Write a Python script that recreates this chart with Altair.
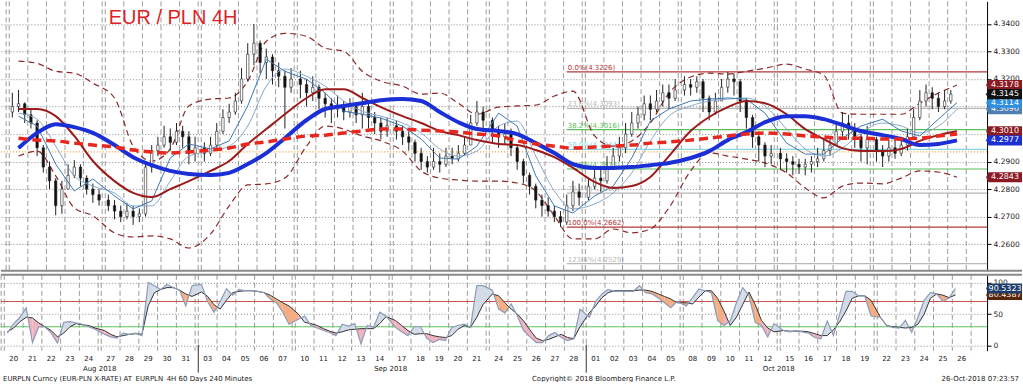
import altair as alt
import pandas as pd

# ---------------- calendar ----------------
day_labels = ["20", "21", "22", "23", "24", "27", "28", "29", "30", "31",
              "03", "04", "05", "06", "07", "10", "11", "12", "13", "14",
              "17", "18", "19", "20", "21", "24", "25", "26", "27", "28",
              "01", "02", "03", "04", "05", "08", "09", "10", "11", "12",
              "15", "16", "17", "18", "19", "22", "23", "24", "25", "26"]
month_labels = ["Aug 2018", "Sep 2018", "Oct 2018"]
month_label_after_day = [4, 19, 39]
month_start_day = [10, 30]

# ---------------- 8h candles (close / high / low) ----------------
first_open = 4.3080
bar_close = [4.3100, 4.3110, 4.3070, 4.3040, 4.2950, 4.2880, 4.2830, 4.2740, 4.2800,
             4.2850, 4.2880, 4.2840, 4.2800, 4.2780, 4.2760, 4.2740, 4.2720, 4.2700,
             4.2720, 4.2700, 4.2710, 4.2880, 4.2940, 4.2960, 4.2990, 4.2970, 4.3010,
             4.2990, 4.2930, 4.2950, 4.2930, 4.2960, 4.3010, 4.3060, 4.3080, 4.3120,
             4.3200, 4.3290, 4.3330, 4.3260, 4.3280, 4.3230, 4.3210, 4.3170, 4.3200,
             4.3180, 4.3150, 4.3170, 4.3130, 4.3110, 4.3090, 4.3100, 4.3080, 4.3100,
             4.3070, 4.3100, 4.3060, 4.3040, 4.3010, 4.3030, 4.3010, 4.2990, 4.2970,
             4.2930, 4.2900, 4.2880, 4.2900, 4.2890, 4.2920, 4.2910, 4.2930, 4.2960,
             4.3040, 4.3080, 4.3050, 4.3010, 4.2990, 4.3000, 4.2950, 4.2900, 4.2850,
             4.2810, 4.2760, 4.2740, 4.2720, 4.2700, 4.2680, 4.2740, 4.2790, 4.2770,
             4.2810, 4.2840, 4.2830, 4.2880, 4.2920, 4.2950, 4.3000, 4.3040, 4.3070,
             4.3110, 4.3090, 4.3120, 4.3150, 4.3130, 4.3160, 4.3180, 4.3170, 4.3190,
             4.3130, 4.3080, 4.3120, 4.3170, 4.3200, 4.3190, 4.3120, 4.3060, 4.2990,
             4.2960, 4.2920, 4.2930, 4.2910, 4.2900, 4.2890, 4.2880, 4.2890, 4.2900,
             4.2910, 4.2940, 4.2960, 4.3010, 4.3040, 4.3020, 4.2990, 4.2950, 4.2980,
             4.2940, 4.2920, 4.2950, 4.2930, 4.2960, 4.2990, 4.3060, 4.3120, 4.3150,
             4.3130, 4.3100, 4.3120, 4.3145]
bar_high = [4.3150, 4.3160, 4.3115, 4.3090, 4.3050, 4.2960, 4.2900, 4.2840, 4.2830,
            4.2890, 4.2905, 4.2890, 4.2850, 4.2820, 4.2800, 4.2780, 4.2760, 4.2740,
            4.2750, 4.2740, 4.2730, 4.2900, 4.2960, 4.2990, 4.3030, 4.3020, 4.3040,
            4.3030, 4.3010, 4.2990, 4.2970, 4.2990, 4.3040, 4.3090, 4.3110, 4.3150,
            4.3240, 4.3330, 4.3400, 4.3340, 4.3310, 4.3290, 4.3260, 4.3230, 4.3240,
            4.3230, 4.3200, 4.3210, 4.3180, 4.3150, 4.3130, 4.3140, 4.3120, 4.3130,
            4.3110, 4.3150, 4.3110, 4.3080, 4.3060, 4.3060, 4.3050, 4.3030, 4.3010,
            4.2980, 4.2950, 4.2920, 4.2950, 4.2930, 4.2950, 4.2950, 4.2960, 4.2990,
            4.3070, 4.3120, 4.3100, 4.3060, 4.3030, 4.3040, 4.3020, 4.2960, 4.2910,
            4.2860, 4.2820, 4.2780, 4.2770, 4.2740, 4.2720, 4.2780, 4.2830, 4.2820,
            4.2840, 4.2880, 4.2870, 4.2920, 4.2950, 4.2990, 4.3040, 4.3080, 4.3100,
            4.3140, 4.3140, 4.3160, 4.3180, 4.3180, 4.3200, 4.3210, 4.3200, 4.3210,
            4.3200, 4.3140, 4.3150, 4.3200, 4.3226, 4.3220, 4.3200, 4.3130, 4.3070,
            4.3010, 4.2970, 4.2960, 4.2950, 4.2930, 4.2920, 4.2910, 4.2910, 4.2920,
            4.2950, 4.2980, 4.2990, 4.3040, 4.3080, 4.3070, 4.3040, 4.3000, 4.3030,
            4.2990, 4.2960, 4.2980, 4.2980, 4.2990, 4.3020, 4.3090, 4.3160, 4.3180,
            4.3170, 4.3150, 4.3160, 4.3160]
bar_low = [4.3060, 4.3080, 4.3040, 4.3020, 4.2920, 4.2860, 4.2800, 4.2705, 4.2710,
           4.2800, 4.2840, 4.2810, 4.2780, 4.2750, 4.2740, 4.2720, 4.2690, 4.2680,
           4.2690, 4.2670, 4.2680, 4.2700, 4.2860, 4.2920, 4.2950, 4.2940, 4.2960,
           4.2950, 4.2890, 4.2900, 4.2900, 4.2920, 4.2950, 4.3000, 4.3040, 4.3070,
           4.3110, 4.3190, 4.3250, 4.3220, 4.3200, 4.3180, 4.3170, 4.3020, 4.3150,
           4.3130, 4.3100, 4.3120, 4.3090, 4.3060, 4.3040, 4.3060, 4.3050, 4.3060,
           4.3040, 4.3020, 4.3020, 4.3000, 4.2980, 4.2990, 4.2980, 4.2960, 4.2940,
           4.2900, 4.2870, 4.2860, 4.2870, 4.2860, 4.2880, 4.2890, 4.2900, 4.2920,
           4.2960, 4.3030, 4.3010, 4.2970, 4.2950, 4.2960, 4.2920, 4.2870, 4.2820,
           4.2780, 4.2730, 4.2700, 4.2700, 4.2680, 4.2662, 4.2670, 4.2720, 4.2740,
           4.2760, 4.2800, 4.2790, 4.2820, 4.2870, 4.2900, 4.2930, 4.2990, 4.3020,
           4.3050, 4.3050, 4.3080, 4.3100, 4.3090, 4.3120, 4.3140, 4.3140, 4.3150,
           4.3080, 4.3050, 4.3070, 4.3120, 4.3150, 4.3140, 4.3080, 4.3020, 4.2950,
           4.2900, 4.2880, 4.2890, 4.2870, 4.2860, 4.2850, 4.2855, 4.2850, 4.2860,
           4.2880, 4.2900, 4.2920, 4.2960, 4.2990, 4.2980, 4.2950, 4.2900, 4.2890,
           4.2900, 4.2880, 4.2900, 4.2910, 4.2920, 4.2940, 4.2980, 4.3050, 4.3100,
           4.3090, 4.3080, 4.3090, 4.3110]

# ---------------- indicator lines (one value per day, at day centre) ----------------
ma_fast = [4.3065, 4.3029, 4.2891, 4.2793, 4.2837, 4.2775, 4.2728, 4.2757, 4.2913, 4.2964,
           4.2946, 4.2975, 4.3102, 4.3272, 4.3228, 4.3199, 4.3149, 4.3083, 4.3072, 4.3058,
           4.3029, 4.2982, 4.2913, 4.2909, 4.2956, 4.3076, 4.3029, 4.2848, 4.2739, 4.2713,
           4.2775, 4.2811, 4.2913, 4.3047, 4.3091, 4.3120, 4.3127, 4.3131, 4.3127, 4.3076,
           4.2967, 4.2927, 4.2927, 4.2985, 4.3029, 4.3054, 4.3011, 4.2993, 4.3054, 4.3114]
ma_slow = [4.3076, 4.3054, 4.2956, 4.2848, 4.2811, 4.2786, 4.2739, 4.2739, 4.2829, 4.2920,
           4.2938, 4.2956, 4.3029, 4.3174, 4.3236, 4.3210, 4.3174, 4.3120, 4.3083, 4.3065,
           4.3040, 4.3004, 4.2946, 4.2920, 4.2938, 4.3029, 4.3047, 4.2920, 4.2793, 4.2728,
           4.2746, 4.2786, 4.2859, 4.2975, 4.3065, 4.3102, 4.3120, 4.3127, 4.3131, 4.3102,
           4.3018, 4.2946, 4.2920, 4.2949, 4.3004, 4.3040, 4.3029, 4.3004, 4.3029, 4.3090]
ma_mid = [4.3091, 4.3091, 4.3065, 4.2993, 4.2902, 4.2829, 4.2786, 4.2771, 4.2800, 4.2829,
          4.2866, 4.2902, 4.2964, 4.3018, 4.3072, 4.3131, 4.3163, 4.3163, 4.3131, 4.3098,
          4.3065, 4.3040, 4.3011, 4.2996, 4.2978, 4.2964, 4.2960, 4.2942, 4.2916, 4.2877,
          4.2826, 4.2804, 4.2811, 4.2844, 4.2920, 4.3011, 4.3062, 4.3098, 4.3120, 4.3112,
          4.3072, 4.3018, 4.2982, 4.2949, 4.2938, 4.2938, 4.2946, 4.2975, 4.2996, 4.3010]
ma_blue = [4.2949, 4.3004, 4.3036, 4.3025, 4.3004, 4.2960, 4.2916, 4.2887, 4.2866, 4.2855,
           4.2851, 4.2859, 4.2891, 4.2931, 4.2985, 4.3051, 4.3091, 4.3102, 4.3112, 4.3123,
           4.3127, 4.3120, 4.3080, 4.3043, 4.3018, 4.3011, 4.3000, 4.2967, 4.2931, 4.2891,
           4.2877, 4.2877, 4.2880, 4.2887, 4.2895, 4.2913, 4.2938, 4.2978, 4.3007, 4.3043,
           4.3065, 4.3065, 4.3054, 4.3033, 4.3011, 4.2996, 4.2982, 4.2960, 4.2964, 4.2977]
ma_red = [4.2985, 4.2978, 4.2975, 4.2967, 4.2960, 4.2953, 4.2942, 4.2935, 4.2931, 4.2935,
          4.2942, 4.2949, 4.2964, 4.2971, 4.2982, 4.2993, 4.2996, 4.3004, 4.3011, 4.3018,
          4.3018, 4.3014, 4.3011, 4.3007, 4.3000, 4.2993, 4.2975, 4.2964, 4.2956, 4.2949,
          4.2953, 4.2956, 4.2960, 4.2967, 4.2971, 4.2978, 4.2985, 4.2993, 4.3000, 4.3004,
          4.3000, 4.2993, 4.2989, 4.2985, 4.2985, 4.2982, 4.2982, 4.2985, 4.2993, 4.3000]
bb_upper = [4.3265, 4.3257, 4.3228, 4.3221, 4.3185, 4.3131, 4.2956, 4.2902, 4.2946, 4.3102,
            4.3127, 4.3131, 4.3192, 4.3337, 4.3366, 4.3355, 4.3312, 4.3301, 4.3228, 4.3192,
            4.3174, 4.3145, 4.3149, 4.3112, 4.3072, 4.3098, 4.3102, 4.3105, 4.3138, 4.3156,
            4.2993, 4.2956, 4.2975, 4.3040, 4.3149, 4.3207, 4.3221, 4.3218, 4.3228, 4.3239,
            4.3254, 4.3236, 4.3214, 4.3076, 4.3072, 4.3072, 4.3072, 4.3112, 4.3149, 4.3178]
bb_lower = [4.2920, 4.2938, 4.2848, 4.2732, 4.2703, 4.2641, 4.2626, 4.2630, 4.2619, 4.2586,
            4.2637, 4.2739, 4.2815, 4.2819, 4.2840, 4.2956, 4.3029, 4.3018, 4.2993, 4.2975,
            4.2938, 4.2866, 4.2840, 4.2833, 4.2829, 4.2829, 4.2822, 4.2793, 4.2703, 4.2619,
            4.2619, 4.2655, 4.2641, 4.2655, 4.2732, 4.2866, 4.2931, 4.2920, 4.2909, 4.2895,
            4.2859, 4.2804, 4.2768, 4.2811, 4.2822, 4.2819, 4.2840, 4.2866, 4.2862, 4.2843]

# ---------------- stochastic (one value per candle) ----------------
stoch_k = [20, 35, 45, 60, 5, 30, 30, 20, 4, 37, 38, 36, 34, 30, 26, 18, 14, 12, 20, 18, 20,
           16, 100, 95, 89, 97, 92, 88, 63, 95, 97, 70, 53, 70, 90, 80, 89, 87, 87, 86, 84, 74,
           68, 53, 34, 42, 47, 32, 28, 24, 21, 16, 34, 31, 35, 3, 32, 29, 53, 47, 29, 22, 16,
           30, 30, 12, 5, 10, 8, 29, 32, 34, 29, 95, 95, 88, 58, 52, 66, 47, 24, 14, 5, 5,
           16, 21, 13, 8, 11, 58, 45, 70, 82, 89, 86, 86, 86, 86, 95, 84, 82, 76, 68, 60, 70,
           63, 76, 90, 87, 84, 40, 32, 39, 68, 92, 80, 37, 32, 14, 35, 24, 22, 24, 22, 20, 13,
           11, 39, 16, 50, 86, 86, 79, 79, 47, 45, 32, 29, 28, 40, 21, 45, 72, 84, 82, 70, 76,
           90.53]
stoch_d = [22, 28, 38, 45, 44, 36, 30, 24, 14, 20, 30, 35, 33, 32, 28, 24, 18, 14, 16, 18, 19,
           18, 63, 84, 89, 92, 92, 88, 82, 78, 85, 78, 65, 58, 72, 84, 86, 87, 87, 86, 84, 80,
           74, 68, 63, 50, 37, 35, 32, 27, 23, 20, 22, 25, 26, 27, 27, 27, 35, 46, 40, 32, 24,
           18, 19, 19, 16, 14, 13, 16, 26, 32, 29, 45, 65, 82, 79, 68, 58, 50, 39, 25, 12, 8,
           10, 14, 18, 13, 11, 30, 52, 63, 76, 84, 87, 87, 87, 87, 88, 88, 86, 82, 78, 74, 68,
           68, 66, 77, 87, 87, 75, 55, 32, 45, 65, 85, 65, 40, 28, 22, 24, 23, 23, 23, 22, 19,
           16, 16, 25, 38, 55, 75, 79, 79, 72, 45, 32, 30, 29, 28, 29, 34, 50, 75, 82, 80, 76,
           80.44]

# ---------------- Fibonacci retracement ----------------
fib_pct = ["0.0%", "23.6%", "38.2%", "50.0%", "61.8%", "76.4%", "100.0%", "123.6%"]
fib_val = [4.3226, 4.3093, 4.3016, 4.2944, 4.2873, 4.2785, 4.2662, 4.2529]
fib_color = ["#b23a3a", "#b8b8b8", "#5cbf5c", "#86d6e4", "#5cbf5c", "#b8b8b8", "#b23a3a", "#b8b8b8"]
fib_anchor_bar = 87          # Sep 28 low candle
level_line = 4.2935

tag_main_val = [4.3090, 4.3178, 4.3114, 4.3010, 4.2977, 4.2843, 4.3145]
tag_main_color = ["#4f7fb0", "#8b1a22", "#2d8fe0", "#8b1a22", "#1c2fd0", "#8b1a22", "#101010"]
tag_stoch_val = [80.4387, 90.5323]
tag_stoch_color = ["#5a2608", "#1d3c6b"]

# ---------------- derived tables ----------------
def day_start(i):
    return 31 * (i // 5) + 6 * (i % 5)

n = len(bar_close)
bar_x = [day_start(i) + 1 + 2 * j for i in range(50) for j in range(3)][:n]
bar_open = [first_open] + bar_close[:-1]
bars = pd.DataFrame({
    "x": bar_x, "o": bar_open, "c": bar_close,
    "h": [max(h, o, c) for h, o, c in zip(bar_high, bar_open, bar_close)],
    "l": [min(l, o, c) for l, o, c in zip(bar_low, bar_open, bar_close)],
})
bars["up"] = bars["c"] >= bars["o"]
day_center = [day_start(i) + 3 for i in range(50)]

W, H1, H2 = 988, 270, 76
XS = alt.Scale(domain=[-1.05, -1.05 + W / 3.135], nice=False, zero=False)
PS = alt.Scale(domain=[4.2503, 4.3482], nice=False, zero=False)
SS = alt.Scale(domain=[-7.9, 112.2], nice=False, zero=False)
FONT = "DejaVu Sans"

axis_common = dict(orient="right", title=None, grid=True, gridDash=[1, 2], gridColor="#8c8c8c",
                   gridWidth=1, domainColor="#000", tickColor="#000", tickSize=4,
                   labelFont=FONT, labelFontSize=7.5, labelColor="#222", labelPadding=2)
PAX = alt.Axis(values=[4.26, 4.27, 4.28, 4.29, 4.30, 4.31, 4.32, 4.33, 4.34], format=".4f", **axis_common)
SAX = alt.Axis(values=[0, 50, 100], format="d", **axis_common)


def X(f="x"):
    return alt.X(f"{f}:Q", scale=XS, axis=None)


def YP(f):
    return alt.Y(f"{f}:Q", scale=PS, axis=PAX)


def YS(f):
    return alt.Y(f"{f}:Q", scale=SS, axis=SAX)


grid_x = [-1] + [day_start(i) for i in range(50)] + [day_start(i) + 6 for i in range(50) if i % 5 == 4]
grid_df = pd.DataFrame({"x": grid_x})
one = pd.DataFrame({"a": [0]})


def vgrid():
    return alt.Chart(grid_df).mark_rule(color="#9a9a9a", strokeDash=[5, 3], strokeWidth=1).encode(x=X())


def line(values, color, width, dash=None, interp="monotone"):
    df = pd.DataFrame({"x": day_center, "v": values})
    kw = dict(color=color, strokeWidth=width, interpolate=interp)
    if dash:
        kw["strokeDash"] = dash
    return alt.Chart(df).mark_line(**kw).encode(x=X(), y=YP("v"))


TAG = "M-1,0L-0.86,-0.28L1,-0.28L1,0.28L-0.86,0.28Z"


def tag_layers(vals, cols, yfun, fmt):
    out = []
    for v, c in zip(vals, cols):
        df = pd.DataFrame({"v": [v], "t": [fmt.format(v)]})
        out.append(alt.Chart(df).mark_point(shape=TAG, size=1296, filled=True, opacity=1,
                                            color=c, strokeWidth=0)
                   .encode(x=alt.value(1005), y=yfun("v")))
        out.append(alt.Chart(df).mark_text(font=FONT, fontSize=8, color="white", baseline="middle")
                   .encode(x=alt.value(1006), y=yfun("v"), text="t:N"))
    return out


# ---------------- main price panel ----------------
fib_x = bar_x[fib_anchor_bar]
fib_df = pd.DataFrame({"x": [fib_x] * len(fib_val), "v": fib_val, "col": fib_color,
                       "t": [f"{p}({v:.4f})" for p, v in zip(fib_pct, fib_val)]})

main_layers = [
    vgrid(),
    alt.Chart(pd.DataFrame({"v": [level_line]})).mark_rule(color="#f0a030", strokeDash=[1, 2], strokeWidth=1.2)
    .encode(y=YP("v")),
    alt.Chart(fib_df).mark_rule(strokeWidth=1.2).encode(
        x=X(), x2=alt.value(W), y=YP("v"), color=alt.Color("col:N", scale=None)),
    alt.Chart(fib_df).mark_text(align="left", baseline="bottom", dx=1, dy=-1, font=FONT, fontSize=7)
    .encode(x=X(), y=YP("v"), text="t:N", color=alt.Color("col:N", scale=None)),
    line(bb_upper, "#8b2a2a", 1.2, [6, 4]),
    line(bb_lower, "#8b2a2a", 1.2, [6, 4]),
    alt.Chart(bars).mark_rule(color="#222", strokeWidth=1).encode(x=X(), y=YP("l"), y2="h"),
    alt.Chart(bars).mark_bar(size=2.4, stroke="#222", strokeWidth=0.6).encode(
        x=X(), y=YP("o"), y2="c",
        color=alt.condition("datum.up", alt.value("white"), alt.value("#111"))),
    line(ma_slow, "#88a8cc", 1),
    line(ma_fast, "#3c78b4", 1, interp="linear"),
    line(ma_mid, "#9b1b1b", 2),
    line(ma_blue, "#1b2fd6", 4),
    line(ma_red, "#e8281e", 3.5, [9, 5]),
    alt.Chart(pd.DataFrame({"t": ["EUR / PLN 4H"]})).mark_text(
        align="left", baseline="alphabetic", font="Liberation Sans", fontSize=20, color="#dd1f26")
    .encode(x=alt.value(108), y=alt.value(23), text="t:N"),
    alt.Chart(one).mark_rule(color="#8a8a8a", strokeWidth=2).encode(
        x=alt.value(0), x2=alt.value(1023), y=alt.value(H1)),
] + tag_layers(tag_main_val, tag_main_color, YP, "{:.4f}")

main = alt.layer(*main_layers).properties(width=W, height=H1)

# ---------------- stochastic panel ----------------
seg_rows = []
sid = 0
for i in range(n - 1):
    a = (bar_x[i], stoch_k[i], stoch_d[i])
    b = (bar_x[i + 1], stoch_k[i + 1], stoch_d[i + 1])
    e0, e1 = a[1] - a[2], b[1] - b[2]
    if e0 * e1 < 0:
        t = e0 / (e0 - e1)
        xc = a[0] + t * (b[0] - a[0])
        vc = a[1] + t * (b[1] - a[1])
        pieces = [(a, (xc, vc, vc)), ((xc, vc, vc), b)]
    else:
        pieces = [(a, b)]
    for p, q in pieces:
        diff = (p[1] - p[2]) + (q[1] - q[2])
        lvl = (p[2] + q[2]) / 2
        cat = "up" if diff >= 0 else ("hi" if lvl >= 50 else "lo")
        for r in (p, q):
            seg_rows.append({"x": r[0], "k": r[1], "d": r[2], "seg": sid, "cat": cat})
        sid += 1
seg_df = pd.DataFrame(seg_rows)
stoch_df = pd.DataFrame({"x": bar_x, "k": stoch_k, "d": stoch_d})

days_df = pd.DataFrame({"x": day_center, "t": day_labels})
months_df = pd.DataFrame({"x": [day_start(i) + 6.5 for i in month_label_after_day], "t": month_labels})
mstart_df = pd.DataFrame({"x": [day_start(i) for i in month_start_day]})

stoch_layers = [
    vgrid(),
    alt.Chart(pd.DataFrame({"v": [70]})).mark_rule(color="#c8504a", strokeWidth=1).encode(y=YS("v")),
    alt.Chart(pd.DataFrame({"v": [30]})).mark_rule(color="#5cc45c", strokeWidth=1).encode(y=YS("v")),
    alt.Chart(seg_df).mark_area(strokeWidth=0, opacity=1).encode(
        x=X(), y=YS("k"), y2="d", detail="seg:N",
        color=alt.Color("cat:N", scale=alt.Scale(domain=["up", "hi", "lo"],
                                                 range=["#d3dbe6", "#f5ad84", "#f2b3c0"]), legend=None)),
    alt.Chart(stoch_df).mark_line(color="#333333", strokeWidth=1).encode(x=X(), y=YS("d")),
    alt.Chart(stoch_df).mark_line(color="#8a9cb8", strokeWidth=1.2).encode(x=X(), y=YS("k")),
    alt.Chart(one).mark_rule(color="#8a8a8a", strokeWidth=2).encode(
        x=alt.value(0), x2=alt.value(1023), y=alt.value(0)),
    alt.Chart(mstart_df).mark_rule(color="#333", strokeWidth=1).encode(
        x=X(), y=alt.value(H2 - 6), y2=alt.value(H2 + 22)),
    alt.Chart(days_df).mark_text(font=FONT, fontSize=7, color="#222", baseline="middle")
    .encode(x=X(), y=alt.value(H2 + 8), text="t:N"),
    alt.Chart(months_df).mark_text(font=FONT, fontSize=7, color="#222", baseline="middle")
    .encode(x=X(), y=alt.value(H2 + 18), text="t:N"),
    alt.Chart(pd.DataFrame({"t": ["EURPLN Curncy (EUR-PLN X-RATE) AT_EURPLN_4H 60 Days 240 Minutes"]}))
    .mark_text(font=FONT, fontSize=7, color="#222", align="left", baseline="middle")
    .encode(x=alt.value(2), y=alt.value(H2 + 28), text="t:N"),
    alt.Chart(pd.DataFrame({"t": ["Copyright\u00a9 2018 Bloomberg Finance L.P."]}))
    .mark_text(font=FONT, fontSize=7, color="#222", align="center", baseline="middle")
    .encode(x=alt.value(604), y=alt.value(H2 + 28), text="t:N"),
    alt.Chart(pd.DataFrame({"t": ["26-Oct-2018 07:23:57"]}))
    .mark_text(font=FONT, fontSize=7, color="#222", align="right", baseline="middle")
    .encode(x=alt.value(1020), y=alt.value(H2 + 28), text="t:N"),
] + tag_layers(tag_stoch_val, tag_stoch_color, YS, "{:.4f}")

stoch = alt.layer(*stoch_layers).properties(width=W, height=H2)

chart = alt.vconcat(main, stoch, spacing=4, bounds="flush").properties(
    padding=0, background="white"
).configure_view(stroke=None)

chart.save("out.html", embed_options={"renderer": "svg", "actions": False})
